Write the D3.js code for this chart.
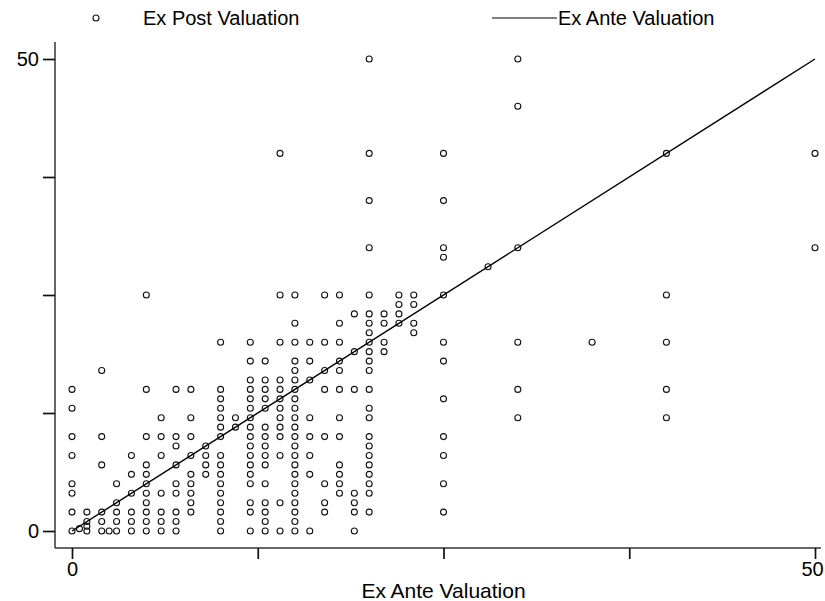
<!DOCTYPE html>
<html><head><meta charset="utf-8">
<script src="https://cdn.jsdelivr.net/npm/d3@7"></script>
<style>
body{margin:0;background:#fff}
text{font-family:"Liberation Sans",Arial,Helvetica,sans-serif;fill:#000}
</style>
</head><body>
<svg id="chart" width="825" height="601"></svg>
<script>
// Ex ante valuation levels (x) and the ex post valuations observed at each level (y)
const anteLevels = [0, 0.5, 1, 2, 2.5, 3, 4, 5, 6, 7, 8, 9, 10, 11, 12, 13, 14, 15, 16, 17, 18, 19, 20, 21, 22, 23, 25, 28, 30, 35, 40, 50];
const postValues = [
  [0, 2, 4, 5, 8, 10, 13, 15],
  [0.25],
  [0, 0.5, 1, 2],
  [0, 1, 2, 7, 10, 17],
  [0],
  [0, 1, 2, 3, 5],
  [0, 1, 2, 4, 6, 8],
  [0, 1, 2, 3, 4, 5, 6, 7, 10, 15, 25],
  [0, 1, 2, 4, 8, 10, 12],
  [0, 1, 2, 4, 5, 7, 9, 10, 15],
  [2, 3, 4, 5, 6, 8, 10, 12, 15],
  [6, 7, 8, 9],
  [0, 1, 2, 3, 4, 5, 6, 7, 8, 10, 11, 12, 13, 14, 15, 20],
  [11, 12],
  [0, 2, 3, 5, 6, 7, 8, 9, 10, 11, 12, 13, 14, 15, 16, 18, 20],
  [0, 1, 2, 3, 5, 7, 8, 9, 10, 11, 13, 14, 15, 16, 18],
  [0, 3, 8, 10, 11, 12, 13, 14, 15, 16, 20, 25, 40],
  [0, 1, 2, 3, 4, 5, 6, 7, 8, 9, 10, 11, 12, 13, 14, 15, 16, 17, 18, 20, 22, 25],
  [0, 6, 8, 10, 12, 16, 18, 20],
  [2, 3, 5, 10, 15, 17, 20, 25],
  [4, 5, 6, 7, 10, 12, 15, 17, 18, 20, 22, 25],
  [0, 2, 3, 4, 15, 19, 23],
  [2, 4, 5, 6, 7, 8, 9, 10, 12, 13, 15, 17, 18, 19, 20, 21, 22, 23, 25, 30, 35, 40, 50],
  [19, 20, 22, 23],
  [22, 23, 24, 25],
  [21, 22, 24, 25],
  [2, 5, 8, 10, 14, 18, 20, 25, 29, 30, 35, 40],
  [28],
  [12, 15, 20, 30, 45, 50],
  [20],
  [12, 15, 20, 25, 40],
  [30, 40]
];
// Ex ante valuation line (45-degree reference): endpoints
const anteLineX = [0, 50];
const anteLineY = [0, 50];
const xTickValues = [0, 12.5, 25, 37.5, 50];
const yTickValues = [0, 12.5, 25, 37.5, 50];
const labeledTicks = [0, 50];
const legendLabels = ["Ex Post Valuation", "Ex Ante Valuation"];
const xTitle = "Ex Ante Valuation";

const svg = d3.select("#chart");
const x = d3.scaleLinear().domain([0, 50]).range([72, 815]);
const y = d3.scaleLinear().domain([0, 50]).range([531, 59]);

const axisX = 55, axisY = 548;
const fmt = d => labeledTicks.includes(d) ? String(d) : "";
const fontStack = "'Liberation Sans',Arial,sans-serif";

// axis lines
svg.append("line").attr("x1", axisX).attr("x2", axisX).attr("y1", 42).attr("y2", axisY)
  .attr("stroke", "#333").attr("stroke-width", 1.5);
svg.append("line").attr("x1", axisX).attr("x2", 821).attr("y1", axisY).attr("y2", axisY)
  .attr("stroke", "#333").attr("stroke-width", 1.5);

// y axis
const gy = svg.append("g").attr("transform", `translate(${axisX},0)`)
  .call(d3.axisLeft(y).tickValues(yTickValues).tickFormat(fmt).tickSize(12).tickSizeOuter(0).tickPadding(4));
gy.select(".domain").remove();
gy.selectAll(".tick line").attr("stroke", "#111").attr("stroke-width", 1.7);
gy.selectAll(".tick text").attr("font-size", 20).style("font-family", fontStack).attr("fill", "#000");

// x axis
const gx = svg.append("g").attr("transform", `translate(0,${axisY})`)
  .call(d3.axisBottom(x).tickValues(xTickValues).tickFormat(fmt).tickSize(11).tickSizeOuter(0).tickPadding(3));
gx.select(".domain").remove();
gx.selectAll(".tick line").attr("stroke", "#111").attr("stroke-width", 1.7);
gx.selectAll(".tick text").attr("font-size", 20).style("font-family", fontStack).attr("fill", "#000")
  .attr("dx", d => d === 50 ? -3 : 0);

// x title
svg.append("text").attr("x", x(25)).attr("y", 598).attr("text-anchor", "middle")
  .attr("font-size", 21).text(xTitle);

// points
const pts = [];
anteLevels.forEach((a, i) => postValues[i].forEach(p => pts.push([a, p])));
svg.append("g").selectAll("circle").data(pts).join("circle")
  .attr("cx", d => x(d[0])).attr("cy", d => y(d[1])).attr("r", 3)
  .attr("fill", "none").attr("stroke", "#111").attr("stroke-width", 1.1);

// ex ante line
svg.append("path")
  .datum(anteLineX.map((v, i) => [v, anteLineY[i]]))
  .attr("d", d3.line().x(d => x(d[0])).y(d => y(d[1])))
  .attr("fill", "none").attr("stroke", "#000").attr("stroke-width", 1.4);

// legend
const lg = svg.append("g");
lg.append("circle").attr("cx", 96).attr("cy", 18).attr("r", 3)
  .attr("fill", "none").attr("stroke", "#111").attr("stroke-width", 1.1);
lg.append("text").attr("x", 143).attr("y", 25).attr("font-size", 20).text(legendLabels[0]);
lg.append("line").attr("x1", 492).attr("x2", 557).attr("y1", 18).attr("y2", 18)
  .attr("stroke", "#000").attr("stroke-width", 1);
lg.append("text").attr("x", 558).attr("y", 25).attr("font-size", 20).text(legendLabels[1]);
</script>
</body></html>
